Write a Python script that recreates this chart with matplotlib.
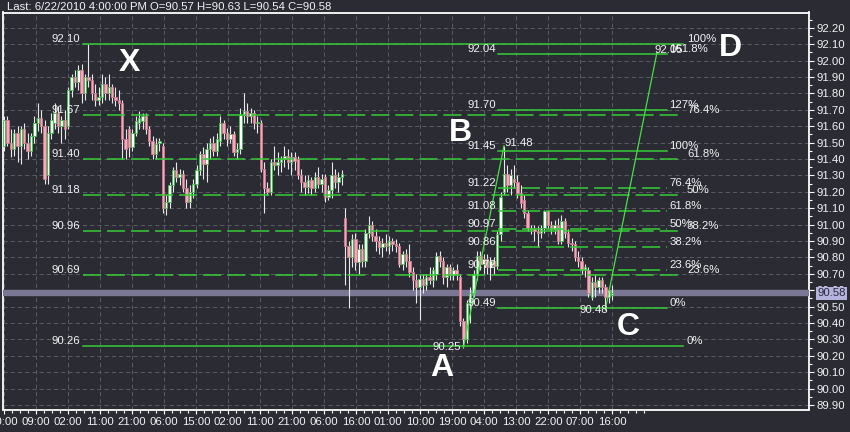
import matplotlib
matplotlib.use('Agg')
import matplotlib.pyplot as plt
from matplotlib import font_manager
from matplotlib.ticker import FixedLocator, MultipleLocator
import numpy as np

# ---------------- data ----------------
opens = [91.48,91.64,91.50,91.46,91.56,91.48,91.58,91.50,91.45,91.54,
         91.62,91.65,91.60,91.30,91.56,91.62,91.68,91.60,91.64,91.60,
         91.82,91.90,91.87,91.94,91.80,91.90,91.88,91.80,91.76,91.78,
         91.86,91.80,91.84,91.78,91.76,91.74,91.52,91.58,91.47,91.56,
         91.62,91.63,91.66,91.58,91.51,91.43,91.50,91.48,91.10,91.14,
         91.24,91.33,91.29,91.31,91.22,91.14,91.20,91.25,91.33,91.43,
         91.37,91.46,91.50,91.45,91.51,91.62,91.56,91.52,91.55,91.44,
         91.46,91.67,91.69,91.66,91.68,91.62,91.62,91.34,91.22,91.20,
         91.38,91.36,91.38,91.40,91.42,91.38,91.41,91.40,91.30,91.26,
         91.23,91.27,91.22,91.29,91.25,91.29,91.17,91.21,91.30,91.26,
         91.29,91.04,90.87,90.80,90.91,90.77,90.85,90.78,90.95,91.00,
         90.93,90.90,90.86,90.89,90.87,90.90,90.88,90.87,90.76,90.82,
         90.78,90.71,90.66,90.62,90.67,90.63,90.68,90.66,90.70,90.81,
         90.78,90.68,90.74,90.69,90.72,90.68,90.41,90.30,90.52,90.58,
         90.70,90.81,90.76,90.79,90.74,90.78,90.75,90.94,91.20,91.31,
         91.24,91.28,91.26,91.19,91.15,91.07,90.98,90.97,90.96,90.95,
         90.98,91.08,91.00,90.97,91.00,90.90,91.02,90.95,90.89,90.88,
         90.80,90.78,90.72,90.72,90.56,90.65,90.62,90.66,90.62,90.56,
         90.57]
highs = [91.66,91.66,91.58,91.58,91.60,91.60,91.62,91.56,91.56,91.66,
         91.74,91.70,91.64,91.60,91.68,91.74,91.72,91.66,91.70,91.84,
         91.92,91.94,91.97,91.98,91.92,92.10,91.92,91.86,91.84,91.92,
         91.90,91.92,91.86,91.84,91.82,91.76,91.58,91.60,91.58,91.66,
         91.69,91.68,91.68,91.60,91.54,91.53,91.53,91.50,91.18,91.26,
         91.35,91.38,91.34,91.33,91.28,91.24,91.28,91.36,91.45,91.47,
         91.50,91.53,91.54,91.56,91.66,91.64,91.59,91.60,91.57,91.50,
         91.71,91.80,91.74,91.71,91.70,91.66,91.64,91.38,91.26,91.40,
         91.48,91.44,91.42,91.48,91.46,91.44,91.44,91.42,91.34,91.30,
         91.30,91.29,91.32,91.35,91.31,91.31,91.24,91.38,91.34,91.32,
         91.33,91.10,90.90,90.94,90.95,90.88,90.88,90.97,91.05,91.02,
         90.97,90.93,90.92,90.94,90.93,90.92,90.91,90.89,90.84,90.85,
         90.88,90.74,90.70,90.70,90.70,90.70,90.74,90.74,90.83,90.84,
         90.80,90.76,90.76,90.74,90.76,90.70,90.43,90.54,90.62,90.72,
         90.84,90.84,90.82,90.82,90.80,90.80,90.96,91.20,91.48,91.36,
         91.34,91.36,91.30,91.24,91.18,91.09,91.00,91.00,90.99,91.00,
         91.09,91.09,91.02,91.03,91.04,91.06,91.04,90.97,90.92,90.90,
         90.84,90.80,90.76,90.74,90.68,90.70,90.68,90.68,90.64,90.62,
         90.63]
lows = [91.45,91.48,91.41,91.42,91.38,91.37,91.46,91.40,91.42,91.50,
        91.57,91.56,91.25,91.25,91.52,91.58,91.56,91.50,91.52,91.58,
        91.78,91.84,91.82,91.74,91.76,91.84,91.76,91.72,91.73,91.74,
        91.76,91.76,91.74,91.72,91.70,91.40,91.40,91.41,91.45,91.54,
        91.58,91.58,91.55,91.48,91.40,91.40,91.45,91.07,91.06,91.10,
        91.20,91.26,91.24,91.20,91.10,91.10,91.16,91.22,91.30,91.28,
        91.26,91.40,91.42,91.42,91.48,91.52,91.48,91.50,91.42,91.40,
        91.43,91.62,91.62,91.62,91.58,91.56,91.32,91.07,91.18,91.18,
        91.33,91.30,91.32,91.35,91.34,91.30,91.33,91.28,91.20,91.18,
        91.19,91.18,91.20,91.22,91.20,91.14,91.15,91.16,91.22,91.20,
        91.24,90.63,90.49,90.74,90.72,90.70,90.74,90.74,90.92,90.90,
        90.84,90.82,90.80,90.84,90.82,90.84,90.83,90.74,90.72,90.74,
        90.68,90.60,90.52,90.42,90.58,90.60,90.64,90.62,90.66,90.74,
        90.64,90.62,90.66,90.66,90.66,90.38,90.25,90.28,90.40,90.56,
        90.66,90.72,90.70,90.70,90.66,90.70,90.73,90.90,91.18,91.20,
        91.18,91.22,91.16,91.10,91.04,90.96,90.94,90.90,90.86,90.92,
        90.95,90.98,90.94,90.94,90.88,90.88,90.92,90.86,90.84,90.78,
        90.74,90.70,90.68,90.56,90.54,90.56,90.58,90.58,90.48,90.52,
        90.54]
closes = [91.64,91.50,91.46,91.56,91.48,91.58,91.50,91.45,91.54,91.62,
          91.65,91.60,91.28,91.56,91.64,91.68,91.60,91.64,91.58,91.82,
          91.90,91.87,91.94,91.80,91.90,91.88,91.80,91.76,91.78,91.86,
          91.80,91.84,91.78,91.76,91.74,91.52,91.46,91.47,91.56,91.63,
          91.65,91.66,91.58,91.51,91.43,91.49,91.50,91.10,91.14,91.24,
          91.33,91.29,91.31,91.22,91.14,91.20,91.25,91.33,91.43,91.37,
          91.46,91.50,91.45,91.52,91.62,91.56,91.52,91.55,91.44,91.46,
          91.67,91.69,91.66,91.68,91.62,91.62,91.34,91.22,91.20,91.38,
          91.36,91.38,91.40,91.42,91.38,91.41,91.39,91.30,91.26,91.23,
          91.27,91.22,91.29,91.25,91.28,91.17,91.21,91.30,91.26,91.29,
          91.31,90.87,90.80,90.91,90.77,90.85,90.78,90.95,91.00,90.93,
          90.90,90.86,90.89,90.87,90.90,90.88,90.87,90.76,90.82,90.78,
          90.71,90.66,90.62,90.67,90.63,90.68,90.66,90.72,90.81,90.78,
          90.68,90.74,90.69,90.72,90.70,90.41,90.30,90.52,90.58,90.70,
          90.81,90.76,90.79,90.74,90.78,90.75,90.94,91.17,91.31,91.24,
          91.30,91.26,91.19,91.13,91.07,90.98,90.97,90.96,90.95,90.98,
          91.08,91.00,90.97,91.00,90.90,91.02,90.95,90.89,90.88,90.80,
          90.78,90.72,90.74,90.58,90.65,90.62,90.66,90.62,90.56,90.60,
          90.58]

tick_bars = [0.0, 9.5, 18.9, 28.4, 37.9, 47.4, 56.8, 66.3, 75.8, 85.3,
             94.7, 104.2, 113.7, 123.2, 132.6, 142.1, 151.6, 161.1, 170.5, 180.0]
tick_labels = ['00:00', '09:00', '02:00', '11:00', '21:00', '06:00', '15:00', '02:00',
               '11:00', '21:00', '06:00', '16:00', '01:00', '10:00', '19:00', '04:00',
               '13:00', '22:00', '07:00', '16:00']

# XABCD pivots (bar index, price)
pivot_names = ['X', 'A', 'B', 'C', 'D']
pivot_bars = [25, 136, 148, 178, 193.3]
pivot_prices = [92.10, 90.25, 91.48, 90.48, 92.05]

# Fibonacci retracement X->A
fib1_levels = [90.26, 90.69, 90.96, 91.18, 91.40, 91.67, 92.10]
fib1_pcts = ['0%', '23.6%', '38.2%', '50%', '61.8%', '76.4%', '100%']
fib1_span = (23.4, 201.0)
# Fibonacci levels of second tool
fib2_levels = [90.49, 90.72, 90.86, 90.97, 91.08, 91.22, 91.45, 91.70, 92.04]
fib2_pcts = ['0%', '23.6%', '38.2%', '50%', '61.8%', '76.4%', '100%', '127%', '161.8%']
fib2_span = (146.2, 196.3)
solid_pcts = {'0%', '100%', '127%', '161.8%'}

last_price = 90.58
header = 'Last: 6/22/2010 4:00:00 PM O=90.57 H=90.63 L=90.54 C=90.58'

# ---------------- style ----------------
names = {f.name for f in font_manager.fontManager.ttflist}
if 'Liberation Sans Narrow' in names:
    FONT, FS = 'Liberation Sans Narrow', 9.2
else:
    FONT, FS = 'Liberation Sans', 8.2
plt.rcParams['font.family'] = [FONT, 'DejaVu Sans']
plt.rcParams['lines.scale_dashes'] = False

BG = '#2b2b34'
GRID = '#5b5b66'
FIBG = '#36cc36'
TXT = '#f2f2f2'
PX = 0.72  # points per pixel at 100 dpi

fig = plt.figure(figsize=(8.5, 4.32), dpi=100, facecolor=BG)
ax = fig.add_axes([3/850, 1-409.5/432, 806/850, 397/432], facecolor=BG)

ax.set_xlim(-0.296, 238.3)
ax.set_ylim(89.872, 92.293)

# grid
ax.xaxis.set_major_locator(FixedLocator(tick_bars))
ax.set_xticklabels(tick_labels)
ax.xaxis.set_minor_locator(FixedLocator(np.arange(0, 190, 9.474/4)))
ax.yaxis.set_major_locator(MultipleLocator(0.1))
ax.yaxis.set_minor_locator(MultipleLocator(0.05))
ax.yaxis.set_major_formatter(matplotlib.ticker.FormatStrFormatter('%.2f'))
ax.grid(True, which='major', color=GRID, linestyle=(0, (3, 2.2)), linewidth=0.7)
ax.set_axisbelow(True)

ax.yaxis.tick_right()
ax.tick_params(axis='y', which='major', length=3.6, width=0.8, colors='white',
               pad=1.5, labelsize=FS, labelcolor=TXT)
ax.tick_params(axis='y', which='minor', length=2.0, width=0.8, colors='white')
ax.tick_params(axis='x', which='major', length=3.2, width=0.8, colors='white',
               pad=2, labelsize=FS, labelcolor=TXT)
ax.tick_params(axis='x', which='minor', length=2.0, width=0.8, colors='white')
for s in ax.spines.values():
    s.set_color('white')
    s.set_linewidth(1.3)

# current price band
ax.axhline(last_price, color='#7a7794', linewidth=4.6, zorder=2.6)

# candles
o = np.array(opens); h = np.array(highs); l = np.array(lows); c = np.array(closes)
x = np.arange(len(o))
up = c >= o
bot = np.minimum(o, c)
hgt = np.maximum(np.abs(c - o), 0.008)
ax.vlines(x, l, h, color='#e8e8e8', linewidth=0.8, zorder=3)
ax.bar(x[up], hgt[up], bottom=bot[up], width=0.72, color='#ffffff',
       edgecolor='#3fbf4a', linewidth=0.6, zorder=4)
ax.bar(x[~up], hgt[~up], bottom=bot[~up], width=0.72, color='#f2aabb',
       edgecolor='#d07a8e', linewidth=0.6, zorder=4)

# fib 1
for lev, pct in zip(fib1_levels, fib1_pcts):
    ls = '-' if pct in solid_pcts else (0, (13, 4.3))
    ax.plot(fib1_span, [lev, lev], color=FIBG, linewidth=1.1, linestyle=ls, zorder=5)
    ax.annotate(f'{lev:.2f}', xy=(fib1_span[0], lev), xytext=(-3*PX, 0),
                textcoords='offset points', ha='right', va='bottom',
                color=TXT, fontsize=FS, zorder=8)
    ax.annotate(pct, xy=(fib1_span[1], lev), xytext=(4*PX, 0),
                textcoords='offset points', ha='left', va='bottom',
                color=TXT, fontsize=FS, zorder=8, annotation_clip=False)

# fib 2
for lev, pct in zip(fib2_levels, fib2_pcts):
    ls = '-' if pct in solid_pcts else (0, (13, 4.3))
    ax.plot(fib2_span, [lev, lev], color=FIBG, linewidth=1.1, linestyle=ls, zorder=5)
    ax.annotate(f'{lev:.2f}', xy=(fib2_span[0], lev), xytext=(-2*PX, 0),
                textcoords='offset points', ha='right', va='bottom',
                color=TXT, fontsize=FS, zorder=8)
    ax.annotate(pct, xy=(fib2_span[1], lev), xytext=(2*PX, 0),
                textcoords='offset points', ha='left', va='bottom',
                color=TXT, fontsize=FS, zorder=8)

# pattern legs A->B and C->D
ax.plot(pivot_bars[1:3], pivot_prices[1:3], color='#45e045', linewidth=0.9, zorder=6)
ax.plot(pivot_bars[3:5], pivot_prices[3:5], color='#45e045', linewidth=0.9, zorder=6)

# pivot price labels
price_lbl_off = {'A': ((-2, 1), 'right'), 'B': ((1, 3), 'left'),
                 'C': ((3, 0), 'right'), 'D': ((-2, 2), 'left')}
for nm, b, p in zip(pivot_names, pivot_bars, pivot_prices):
    if nm in price_lbl_off:
        (dx, dy), ha = price_lbl_off[nm]
        ax.annotate(f'{p:.2f}', xy=(b, p), xytext=(dx*PX, dy*PX),
                    textcoords='offset points', ha=ha, va='center',
                    color=TXT, fontsize=FS, zorder=8)

# pivot letters
letter_off = {'X': (41, -18.5), 'A': (-22, -20.5), 'B': (-44, 13),
              'C': (23, -17), 'D': (73.5, 4.4)}
for nm, b, p in zip(pivot_names, pivot_bars, pivot_prices):
    dx, dy = letter_off[nm]
    ax.annotate(nm, xy=(b, p), xytext=(dx*PX, dy*PX), textcoords='offset points',
                ha='center', va='center', color='white', fontsize=23,
                fontweight='bold', family=['Liberation Sans', 'DejaVu Sans'], zorder=9)

# last price box on the right axis
ax.annotate(f'{last_price:.2f}', xy=(1, last_price), xycoords=('axes fraction', 'data'),
            xytext=(8*PX, 0), textcoords='offset points', ha='left', va='center',
            color='#2a2a3a', fontsize=FS, zorder=20, annotation_clip=False,
            bbox=dict(boxstyle='square,pad=0.12', facecolor='#b6b2de', edgecolor='none'))

fig.text(7/850, 1-7/432, header, ha='left', va='center', color=TXT, fontsize=FS)

fig.savefig('out.png', dpi=100, facecolor=BG)
